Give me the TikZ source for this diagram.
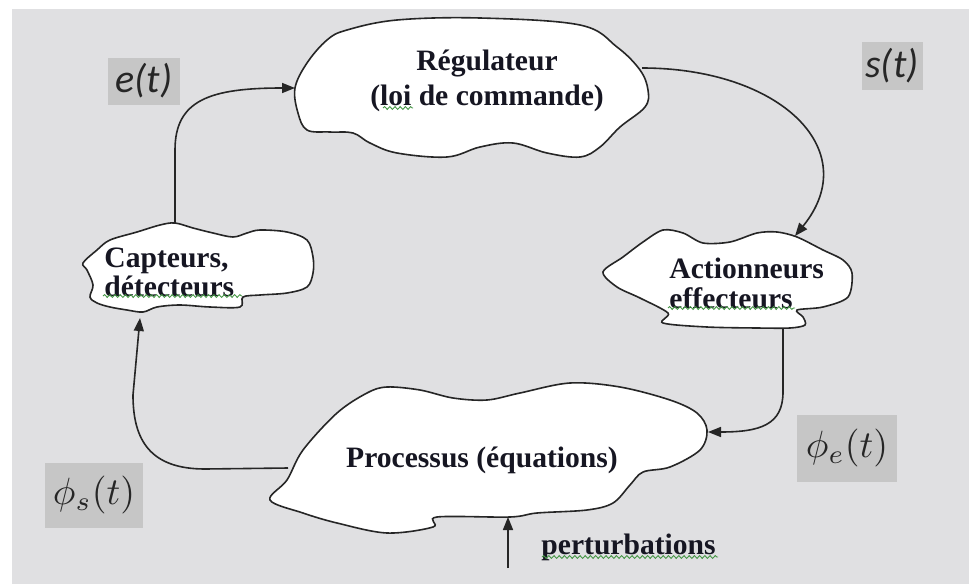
\documentclass[tikz,border=0pt]{standalone}
\usepackage{graphicx}
\usepackage{fontspec}
\setmainfont{Liberation Serif}
\newfontfamily\calibfont{Carlito}
\usetikzlibrary{arrows.meta,decorations.pathmorphing}
\definecolor{cMarble}{RGB}{224,224,226}
\definecolor{cLabel}{RGB}{198,198,198}
\definecolor{cInk}{RGB}{22,22,34}
\definecolor{cSpell}{RGB}{70,150,70}
\tikzset{
	blob/.style={draw=black!85, line width=0.8pt, fill=white},
	btext/.style={font=\bfseries\fontsize{14.8}{17.5}\selectfont, text=cInk,
		inner sep=0pt},
	lbl/.style={fill=cLabel, inner sep=0pt, text=black!85},
	farr/.style={-{Triangle[length=6.5pt,width=5pt]}, line width=0.8pt,
		draw=black!85},
	spell/.style={draw=cSpell, line width=0.45pt, decorate,
		decoration={snake,amplitude=0.7pt,segment length=2.6pt}},
}

\begin{document}
\begin{tikzpicture}[x=0.5pt,y=-0.5pt]
	\useasboundingbox (0,0) rectangle (969,584);
	% marble background
	\fill[white] (0,0) rectangle (969,584);
	\fill[cMarble] (12,9) rectangle (969,584);

	% Blobs
	\draw[blob] plot[smooth cycle,tension=0.6] coordinates {
		(347,30) (397,20) (480,18) (580,25) (617,47) (640,70) (648,90)
		(645,107) (620,127) (600,147) (580,157) (547,153) (513,143)
		(480,147) (447,157) (397,153) (370,143) (353,133) (330,132)
		(307,130) (298,113) (295,88) (307,63) (327,40)};
	\draw[blob] plot[smooth cycle,tension=0.55] coordinates {
		(97,250) (110,240) (137,232) (160,225) (175,223) (193,228)
		(213,233) (233,237) (247,233) (260,230) (287,232) (307,240)
		(313,257) (313,273) (307,287) (287,293) (260,295) (243,297)
		(240,307) (210,307) (180,305) (157,307) (143,312) (127,310)
		(110,307) (97,303) (90,297) (93,285) (87,270) (83,263)};
	\draw[blob] plot[smooth cycle,tension=0.5] coordinates {
		(603,272) (623,257) (643,242) (663,230) (683,233) (703,243)
		(730,242) (757,233) (777,232) (797,237) (823,250) (843,260)
		(852,273) (848,297) (823,307) (797,310) (803,317) (805,325)
		(790,328) (757,328) (707,327) (663,323) (668,313) (640,298)
		(617,287)};
	\draw[blob] plot[smooth cycle,tension=0.55] coordinates {
		(270,500) (287,480) (303,450) (337,413) (367,393) (387,387)
		(420,390) (453,398) (487,400) (520,393) (570,383) (620,387)
		(670,400) (697,413) (707,430) (700,450) (670,467) (643,472)
		(630,485) (613,503) (587,510) (537,513) (510,517) (437,517)
		(433,527) (387,533) (337,523) (303,513)};

	% Blob texts
	\node[btext,align=center] at (487,81) (reg)
		{Régulateur\\(loi de commande)};
	\node[btext,align=left,anchor=west,
		font=\bfseries\fontsize{14.8}{12.8}\selectfont] at (104,272) (cap)
		{Capteurs,\\détecteurs};
	\node[btext,align=left,anchor=west,
		font=\bfseries\fontsize{14.8}{15}\selectfont] at (669,283) (act)
		{Actionneurs\\effecteurs};
	\node[btext] at (482,460) (proc) {Processus (équations)};
	\node[btext,anchor=west] at (541,547) (pert) {perturbations};

	% Connector ends on the outlines
	\coordinate (reg-w)  at (295,88);
	\coordinate (reg-e)  at (642,68);
	\coordinate (cap-n)  at (175,223);
	\coordinate (cap-s)  at (140,318);
	\coordinate (act-n)  at (795,236);
	\coordinate (act-s)  at (783,328);
	\coordinate (proc-e) at (708,432);
	\coordinate (proc-w) at (288,468);
	\coordinate (proc-s) at (508,517);
	\coordinate (pert-in) at (508,568);

	% Loop connectors
	\draw[farr] (cap-n) -- (175,150) .. controls (175,100) and (210,88) .. (reg-w);
	\draw[farr] (reg-e) .. controls (780,68) and (865,150) .. (act-n);
	\draw[farr] (act-s) -- (783,392) .. controls (783,425) and (760,432) .. (proc-e);
	\draw[farr] (proc-w) -- (205,469) .. controls (150,469) and (133,440) .. (133,395) -- (cap-s);
	\draw[farr] (pert-in) -- (proc-s);

	% Signal labels
	\node[lbl,minimum width=36pt,minimum height=23.5pt] at (144,81) (e)
		{\calibfont\itshape\fontsize{20}{24}\selectfont e(t)};
	\node[lbl,minimum width=30.5pt,minimum height=24pt] at (892,66) (s)
		{\calibfont\itshape\fontsize{20}{24}\selectfont s(t)};
	\node[lbl,minimum width=49pt,minimum height=32.5pt] at (94,495) (phis)
		{\scalebox{1.9}{$\phi_s(t)$}};
	\node[lbl,minimum width=50pt,minimum height=33.5pt] at (847,448) (phie)
		{\scalebox{1.9}{$\phi_e(t)$}};

	% spell-check underlines
	\draw[spell] (383,108) -- (413,108);
	\draw[spell] (103,296) -- (242,296);
	\draw[spell] (668,308) -- (795,308);
	\draw[spell] (542,557) -- (718,557);
\end{tikzpicture}
\end{document}
